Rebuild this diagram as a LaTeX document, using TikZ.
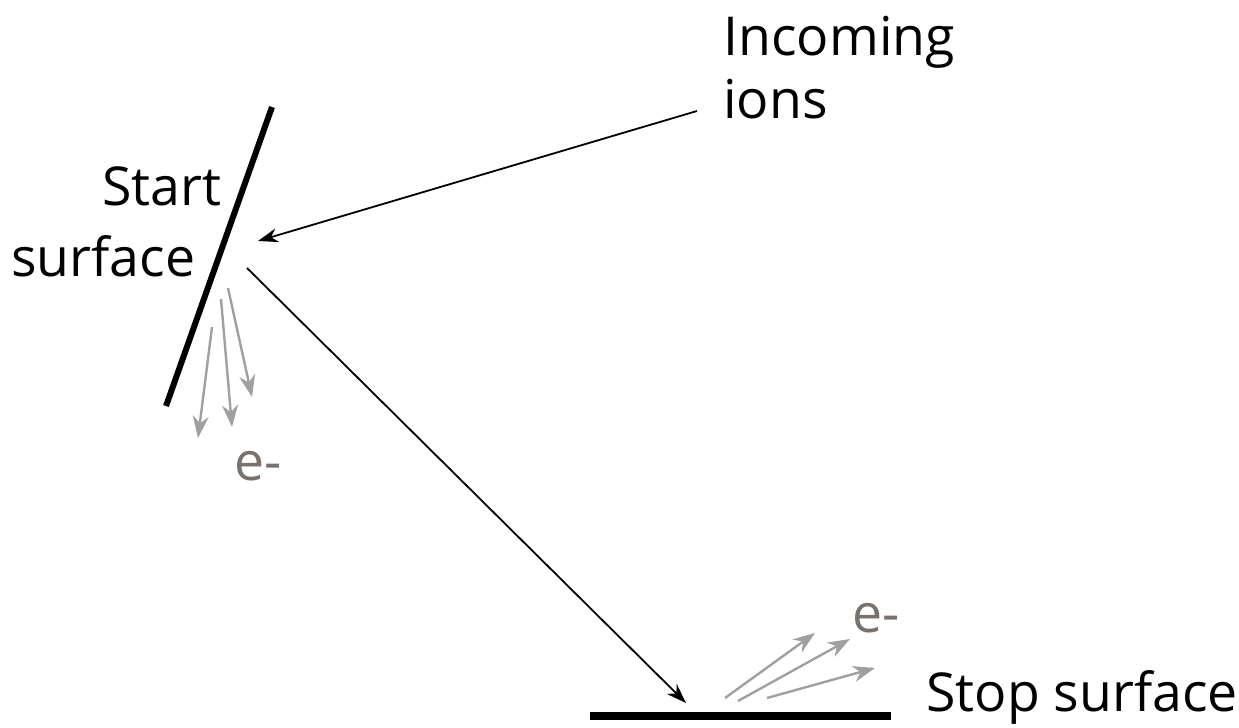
\documentclass[tikz,border=0pt]{standalone}
\usepackage{fontspec}
\setmainfont{Open Sans}
\usetikzlibrary{arrows.meta}
\definecolor{aGray}{RGB}{160,160,158}
\definecolor{eGray}{RGB}{120,114,110}
\begin{document}
\begin{tikzpicture}[x=0.5pt,y=-0.5pt,
  lbl/.style={inner sep=0pt,anchor=base west,font=\fontsize{26.8}{31}\selectfont},
  elbl/.style={lbl,text=eGray},
  surf/.style={line width=3pt},
  ion/.style={line width=0.9pt,-{Stealth[length=10pt,width=7pt]}},
  elec/.style={line width=1.2pt,draw=aGray,-{Stealth[length=11pt,width=8pt]}}]
\useasboundingbox (0,0) rectangle (1239,728);
% surfaces
\coordinate (s1) at (272,107);
\coordinate (s2) at (166,406);
\draw[surf] (s1) -- (s2);
\coordinate (p1) at (590,716);
\coordinate (p2) at (891,716);
\draw[line width=4pt] (p1) -- (p2);
% ions
\coordinate (inA) at (697,111);
\coordinate (inB) at (258,241);
\draw[ion] (inA) -- (inB);
\coordinate (trA) at (247,268);
\coordinate (trB) at (686,703);
\draw[ion] (trA) -- (trB);
% electrons at start
\coordinate (a1) at (212,327); \coordinate (b1) at (198,438);
\coordinate (a2) at (221,299); \coordinate (b2) at (232,427);
\coordinate (a3) at (228,288); \coordinate (b3) at (252,397);
\draw[elec] (a1) -- (b1);
\draw[elec] (a2) -- (b2);
\draw[elec] (a3) -- (b3);
% electrons at stop
\coordinate (c1) at (725,698); \coordinate (d1) at (815,633);
\coordinate (c2) at (738,701); \coordinate (d2) at (850,639);
\coordinate (c3) at (767,698); \coordinate (d3) at (875,668);
\draw[elec] (c1) -- (d1);
\draw[elec] (c2) -- (d2);
\draw[elec] (c3) -- (d3);
% labels
\node[lbl] (inc) at (723,55) {Incoming};
\node[lbl] (ions) at (723,118) {ions};
\node[lbl] (start) at (102,205) {Start};
\node[lbl] (surface) at (11,276) {surface};
\node[lbl] (stop) at (926,711) {Stop surface};
\node[elbl] (e1) at (234,480) {e-};
\node[elbl] (e2) at (852,632) {e-};
\end{tikzpicture}
\end{document}
